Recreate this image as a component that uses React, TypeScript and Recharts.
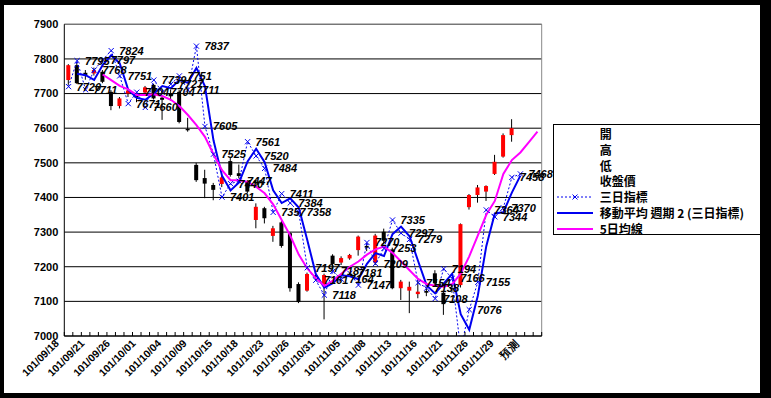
import React from 'react';
import { ComposedChart, Bar, Line, XAxis, YAxis, CartesianGrid, Legend, LabelList, ReferenceLine } from 'recharts';

const dates = [
  '101/09/18','101/09/19','101/09/20','101/09/21','101/09/24','101/09/25','101/09/26','101/09/27','101/09/28',
  '101/10/01','101/10/02','101/10/03','101/10/04','101/10/05','101/10/08','101/10/09','101/10/11','101/10/12',
  '101/10/15','101/10/16','101/10/17','101/10/18','101/10/19','101/10/22','101/10/23','101/10/24','101/10/25',
  '101/10/26','101/10/29','101/10/30','101/10/31','101/11/01','101/11/02','101/11/05','101/11/06','101/11/07',
  '101/11/08','101/11/09','101/11/12','101/11/13','101/11/14','101/11/15','101/11/16','101/11/19','101/11/20',
  '101/11/21','101/11/22','101/11/23','101/11/26','101/11/27','101/11/28','101/11/29','101/11/30',
  '預測1','預測','預測3',
];

const opens = [7739,7782,7760,7758,7763,7705,7664,7700,7695,7703,7725,7688,7700,7705,7598,7494,7456,7436,7439,7505,7470,7445,7335,7369,7289,7328,7297,7150,7131,7175,7147,7232,7212,7224,7248,7260,7212,7301,7250,7138,7131,7121,7130,7181,7125,7138,7147,7372,7407,7417,7468,7518,7580];
const highs = [7785,7790,7768,7775,7768,7710,7690,7715,7700,7722,7728,7692,7712,7710,7630,7500,7480,7442,7462,7515,7495,7450,7383,7373,7318,7332,7300,7155,7183,7185,7180,7236,7230,7237,7290,7268,7295,7310,7255,7162,7157,7162,7140,7190,7130,7145,7325,7410,7436,7435,7523,7585,7626];
const lows = [7725,7728,7740,7752,7730,7652,7657,7690,7675,7700,7683,7624,7680,7614,7590,7445,7398,7392,7430,7460,7455,7412,7311,7325,7272,7255,7128,7095,7128,7160,7048,7200,7205,7220,7232,7245,7205,7265,7135,7104,7066,7109,7115,7145,7061,7125,7140,7365,7385,7390,7465,7515,7561];
const closes = [7782,7730,7752,7768,7734,7664,7686,7709,7688,7718,7686,7682,7692,7618,7594,7450,7440,7422,7458,7465,7462,7417,7373,7340,7311,7260,7138,7098,7179,7170,7176,7208,7225,7234,7287,7255,7290,7275,7138,7157,7142,7128,7125,7152,7092,7135,7323,7407,7429,7433,7503,7580,7600];

const threeDayIndex = [7720,7795,7711,7768,7797,7824,7751,7671,7704,7660,7739,7704,7727,7751,7711,7837,7605,7525,7401,7440,7447,7561,7520,7484,7357,7411,7384,7358,7197,7161,7118,7187,7164,7181,7147,7270,7209,7253,7335,7297,7279,7154,7138,7108,7194,7166,6960,7076,7155,7364,7344,7370,7458,7468,null,null];
const movingAvg2 = [null,7757.5,7753,7739.5,7782.5,7810.5,7787.5,7711,7687.5,7682,7699.5,7721.5,7715.5,7739,7731,7774,7721,7565,7463,7420.5,7443.5,7504,7540.5,7502,7420.5,7384,7397.5,7371,7277.5,7179,7139.5,7152.5,7175.5,7172.5,7164,7208.5,7239.5,7231,7294,7316,7288,7216.5,7146,7123,7151,7180,7063,7018,7115.5,7259.5,7354,7357,7414,7463,null,null];
const ma5 = [null,null,null,null,7755,7739,7722,7712,7696,7696,7698,7693,7682,7664,7638,7609,7575,7525,7479,7450,7450,7445,7431,7412,7380,7335,7290,7235,7195,7167,7145,7160,7180,7200,7215,7235,7250,7258,7240,7215,7190,7165,7150,7145,7142,7150,7180,7230,7290,7350,7390,7468,7508,7530,7560,7590];

const yTicks = [7000, 7100, 7200, 7300, 7400, 7500, 7600, 7700, 7800, 7900];
const legendItems = ['開', '高', '低', '收盤價', '三日指標', '移動平均  週期 2 (三日指標)', '5日均線'];

const data = dates.map((d, i) => ({
  date: d,
  range: highs[i] != null ? [lows[i], highs[i]] : null,
  open: opens[i] ?? null,
  high: highs[i] ?? null,
  low: lows[i] ?? null,
  close: closes[i] ?? null,
  tri: threeDayIndex[i],
  triMA: movingAvg2[i],
  ma5: ma5[i],
}));

const W = 756;
const H = 388;
const MARGIN = { top: 19.3, right: 218.3, bottom: 0, left: 0 };
const YAXIS_W = 60.3;
const PLOT_W = W - MARGIN.right - YAXIS_W;
const BAND = PLOT_W / dates.length;

const BLUE = '#0000F0';
const PINK = '#FF00FF';
const FONT = '"Liberation Sans", Arial, sans-serif';

const Candle = (props: any) => {
  const { x, y, width, height, payload } = props;
  if (!payload || payload.open == null) return null;
  const { open, close, high, low } = payload;
  const k = height / ((high - low) || 1);
  const cx = x + width / 2;
  const top = y + (high - Math.max(open, close)) * k;
  const bot = y + (high - Math.min(open, close)) * k;
  const up = close >= open;
  return (
    <g>
      <line x1={cx} x2={cx} y1={y} y2={y + height} stroke="#000" strokeWidth={1} />
      <rect x={x} y={top} width={width} height={Math.max(bot - top, 1)} fill={up ? '#FF0000' : '#000'} />
    </g>
  );
};

const XMark = (p: any) => {
  const { cx, cy, value } = p;
  if (cx == null || cy == null || value == null) return null;
  const s = 2.6;
  return (
    <path
      d={`M${cx - s},${cy - s}L${cx + s},${cy + s}M${cx - s},${cy + s}L${cx + s},${cy - s}`}
      stroke={BLUE}
      strokeWidth={1}
      fill="none"
    />
  );
};

const TriLabel = (p: any) => {
  const { x, y, value } = p;
  if (value == null || value < 7000) return null;
  return (
    <text x={x + 8} y={y} dy="0.36em" fontFamily={FONT} fontSize={11} fontWeight="bold" fontStyle="italic" fill="#000">
      {value}
    </text>
  );
};

const DateTick = (props: any) => {
  const { x, y, payload, index } = props;
  const half = BAND / 2;
  const show = index % 3 === 0;
  const tx = x - 9;
  const ty = y + 8;
  return (
    <g>
      <line x1={x - half} x2={x - half} y1={y} y2={y - 4} stroke="#000" />
      {index === dates.length - 1 && <line x1={x + half} x2={x + half} y1={y} y2={y - 4} stroke="#000" />}
      {show && (
        <text
          x={tx}
          y={ty}
          transform={`rotate(-45, ${tx}, ${ty})`}
          textAnchor="end"
          fontFamily={FONT}
          fontSize={10.5}
          fontWeight="bold"
          fill="#000"
        >
          {payload.value}
        </text>
      )}
    </g>
  );
};

const LegendIcon = ({ i }: { i: number }) => {
  if (i === 4) {
    return (
      <g>
        <line x1={3} x2={39} y1={8} y2={8} stroke={BLUE} strokeWidth={1} strokeDasharray="2 2" />
        <path d="M18.5,5.5L23.5,10.5M18.5,10.5L23.5,5.5" stroke={BLUE} strokeWidth={1} />
      </g>
    );
  }
  if (i === 5) return <line x1={3} x2={39} y1={8} y2={8} stroke={BLUE} strokeWidth={2} />;
  if (i === 6) return <line x1={3} x2={39} y1={8} y2={8} stroke={PINK} strokeWidth={2} />;
  return null;
};

const LegendBox = () => (
  <div
    style={{
      width: 208,
      height: 111,
      border: '1px solid #000',
      boxSizing: 'border-box',
      background: '#fff',
      paddingTop: 1,
      fontFamily: '"Noto Sans CJK TC", "Noto Sans CJK SC", sans-serif',
      fontSize: 12,
      fontWeight: 700,
      color: '#000',
    }}
  >
    {legendItems.map((t, i) => (
      <div key={i} style={{ height: 15.8, display: 'flex', alignItems: 'center', whiteSpace: 'nowrap' }}>
        <svg width={46} height={16} style={{ flex: 'none' }}>
          <LegendIcon i={i} />
        </svg>
        <span style={{ lineHeight: '15.8px' }}>{t}</span>
      </div>
    ))}
  </div>
);

export default function App() {
  return (
    <div style={{ position: 'absolute', left: 0, top: 0, width: 771, height: 398, background: '#000' }}>
      <div style={{ position: 'absolute', left: 4, top: 5, width: W, height: H, background: '#fff' }}>
        <ComposedChart width={W} height={H} data={data} margin={MARGIN}>
          <CartesianGrid vertical={false} stroke="#000" />
          <ReferenceLine y={7900} stroke="#888" />
          <ReferenceLine x={dates[dates.length - 1]} position="end" stroke="#888" />
          <XAxis
            dataKey="date"
            interval={0}
            height={57}
            tickLine={false}
            tickSize={0}
            tickMargin={0}
            axisLine={{ stroke: '#000' }}
            tick={<DateTick />}
          />
          <YAxis
            type="number"
            domain={[7000, 7900]}
            ticks={yTicks}
            allowDataOverflow
            width={YAXIS_W}
            axisLine={{ stroke: '#000' }}
            tickLine={false}
            tickSize={4}
            tickMargin={2}
            tick={{ fontFamily: FONT, fontSize: 11, fontWeight: 'bold', fill: '#000' }}
          />
          <Bar dataKey="range" barSize={4} shape={<Candle />} isAnimationActive={false} />
          <Line
            dataKey="tri"
            stroke={BLUE}
            strokeWidth={1}
            strokeDasharray="2 2"
            dot={<XMark />}
            activeDot={false}
            isAnimationActive={false}
          >
            <LabelList dataKey="tri" content={<TriLabel />} />
          </Line>
          <Line dataKey="triMA" stroke={BLUE} strokeWidth={2} dot={false} activeDot={false} isAnimationActive={false} />
          <Line dataKey="ma5" stroke={PINK} strokeWidth={2} dot={false} activeDot={false} isAnimationActive={false} />
          <Legend
            layout="vertical"
            align="center"
            verticalAlign="middle"
            content={<LegendBox />}
            wrapperStyle={{ position: 'absolute', left: 548.7, top: 119, width: 208, height: 111 }}
          />
        </ComposedChart>
      </div>
    </div>
  );
}
